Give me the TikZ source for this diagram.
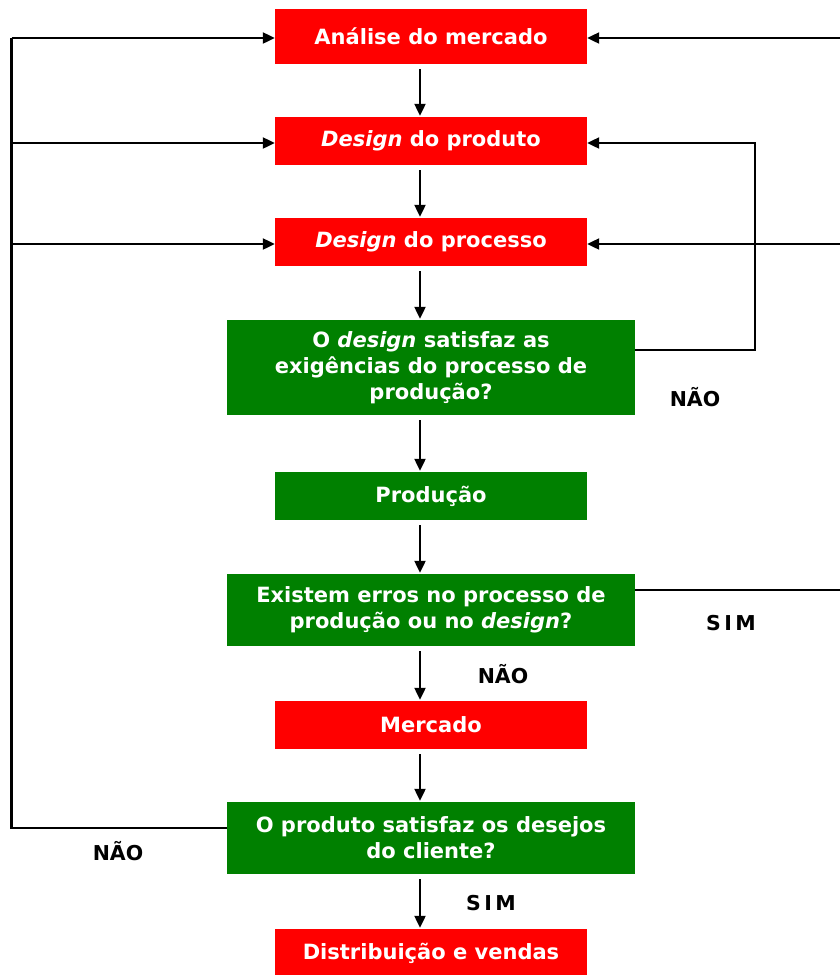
\documentclass[tikz,border=0pt]{standalone}
\usepackage{fontspec}
\setmainfont{DejaVu Sans}
\usetikzlibrary{arrows.meta}
\definecolor{boxred}{HTML}{FF0000}
\definecolor{boxgreen}{HTML}{008000}
\begin{document}
\begin{tikzpicture}[x=1pt,y=-1pt,
  box/.style={inner sep=0pt, text=white, align=center,
    font=\fontsize{21}{26}\selectfont\bfseries},
  redbox/.style={box, fill=boxred},
  greenbox/.style={box, fill=boxgreen},
  lbl/.style={font=\fontsize{20.5}{24}\selectfont\bfseries, text=black},
  line/.style={line width=2.2pt, draw=black},
  arr/.style={line, -{Triangle[length=12pt,width=11pt]}},
  down/.style={arr, shorten <=5pt, shorten >=1pt}]
\useasboundingbox (0,0) rectangle (840,975);

% process boxes (centre, width, height)
\node[redbox, minimum width=312pt, minimum height=55pt] (mkt) at (431,36.5) {Análise do mercado};
\node[redbox, minimum width=312pt, minimum height=48pt] (dprod) at (431,141) {\textit{Design} do produto};
\node[redbox, minimum width=312pt, minimum height=48pt] (dproc) at (431,242) {\textit{Design} do processo};
\node[greenbox, minimum width=408pt, minimum height=95pt] (q1) at (431,367.5) {O \textit{design} satisfaz as\\exigências do processo de\\produção?};
\node[greenbox, minimum width=312pt, minimum height=48pt] (prod) at (431,496) {Produção};
\node[greenbox, minimum width=408pt, minimum height=72pt] (q2) at (431,610) {Existem erros no processo de\\produção ou no \textit{design}?};
\node[redbox, minimum width=312pt, minimum height=48pt] (merc) at (431,725) {Mercado};
\node[greenbox, minimum width=408pt, minimum height=72pt] (q3) at (431,838) {O produto satisfaz os desejos\\do cliente?};
\node[redbox, minimum width=312pt, minimum height=48pt] (dist) at (431,953) {Distribuição e vendas};

% main flow, slightly left of the box centres
\foreach \a/\b in {mkt/dprod, dprod/dproc, dproc/q1, q1/prod, prod/q2, q2/merc, merc/q3, q3/dist}
  \draw[down] ([xshift=-11pt]\a.south) -- ([xshift=-11pt]\b.north);

% left feedback bus (customer not satisfied)
\coordinate (lb) at (11.5,828);
\coordinate (lt) at (11.5,38);
\draw[line] (q3.west |- lb) -- (lb) -- (lt);
\draw[arr] (lt) -- (lt -| mkt.west);
\draw[arr] (11.5,143) -- (11.5,143 -| dprod.west);
\draw[arr] (11.5,244) -- (11.5,244 -| dproc.west);

% design check loop back to product design
\coordinate (rk) at (755,350);
\draw[arr] (q1.east |- rk) -- (rk) -- (755,143) -- (dprod.east |- 0,143);

% production error loop on the right margin
\coordinate (r1) at (842,38);
\coordinate (r3) at (842,244);
\coordinate (r2) at (842,590);
\draw[line] (q2.east |- r2) -- (r2);
\draw[arr] (r1) -- (mkt.east |- r1);
\draw[arr] (r3) -- (dproc.east |- r3);

% decision labels
\node[lbl] (n1) at (695,397) {NÃO};
\node[lbl] (s1) at (731,623) {S\,I\,M};
\node[lbl] (n2) at (503,674) {NÃO};
\node[lbl] (n3) at (118,851) {NÃO};
\node[lbl] (s2) at (491,903) {S\,I\,M};
\end{tikzpicture}
\end{document}
